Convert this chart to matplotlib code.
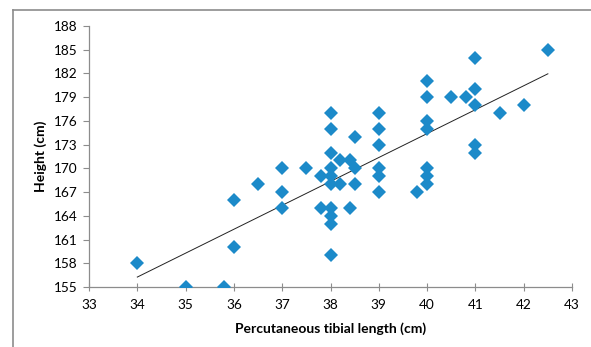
import matplotlib
matplotlib.use('Agg')
import matplotlib.pyplot as plt
from matplotlib.lines import Line2D
import numpy as np

# Percutaneous tibial length (cm) vs height (cm)
tibial_length = [34, 35, 35.8, 36, 36, 36.5, 37, 37, 37, 37.5, 37.8, 37.8,
                 38, 38, 38, 38, 38, 38, 38, 38, 38, 38, 38.2, 38.4, 38.2, 38.4,
                 38.5, 38.5, 38.5, 39, 39, 39, 39, 39, 39, 39.8,
                 40, 40, 40, 40, 40, 40, 40, 40.5, 40.8,
                 41, 41, 41, 41, 41, 41.5, 42, 42.5]
height = [158, 155, 155, 166, 160, 168, 170, 167, 165, 170, 169, 165,
          177, 175, 172, 170, 169, 168, 165, 164, 163, 159, 171, 171, 168, 165,
          174, 170, 168, 177, 175, 173, 170, 169, 167, 167,
          181, 179, 176, 175, 170, 169, 168, 179, 179,
          184, 180, 178, 173, 172, 177, 178, 185]

x_ticks = [33, 34, 35, 36, 37, 38, 39, 40, 41, 42, 43]
y_ticks = [155, 158, 161, 164, 167, 170, 173, 176, 179, 182, 185, 188]

plt.rcParams['font.family'] = ['Lato', 'DejaVu Sans']

fig = plt.figure(figsize=(5.91, 3.47), dpi=100)
ax = fig.add_axes([0.1506, 0.173, 0.8173, 0.752])

x = np.array(tibial_length)
y = np.array(height)
ax.plot(x, y, linestyle='none', marker='D', markersize=6.8,
        color='#1C8AC9', markeredgewidth=0, zorder=3)

# linear trendline over the data range
slope, intercept = np.polyfit(x, y, 1)
xs = np.array([x.min(), x.max()])
ax.plot(xs, slope * xs + intercept, color='#222222', lw=0.7, zorder=2)

ax.set_xlim(33, 43)
ax.set_ylim(155, 188)
ax.set_xticks(x_ticks)
ax.set_yticks(y_ticks)

for s in ['top', 'right']:
    ax.spines[s].set_visible(False)
for s in ['left', 'bottom']:
    ax.spines[s].set_color('#8C8C8C')
    ax.spines[s].set_linewidth(0.9)
ax.tick_params(axis='y', direction='out', length=4, color='#8C8C8C',
               labelsize=9.8, pad=4)
ax.tick_params(axis='x', direction='inout', length=6, color='#8C8C8C',
               labelsize=9.8, pad=6)

ax.set_xlabel('Percutaneous tibial length (cm)', fontsize=10, fontweight='bold',
              labelpad=8)
ax.set_ylabel('Height (cm)', fontsize=10, fontweight='bold', labelpad=5)

# chart area border (left and top edges visible)
fig.add_artist(Line2D([13 / 591, 13 / 591], [0, 1 - 10 / 347],
                      transform=fig.transFigure, color='#8C8C8C', lw=1.2))
fig.add_artist(Line2D([13 / 591, 1], [1 - 10 / 347, 1 - 10 / 347],
                      transform=fig.transFigure, color='#8C8C8C', lw=1.2))

fig.savefig('out.png', dpi=100)
